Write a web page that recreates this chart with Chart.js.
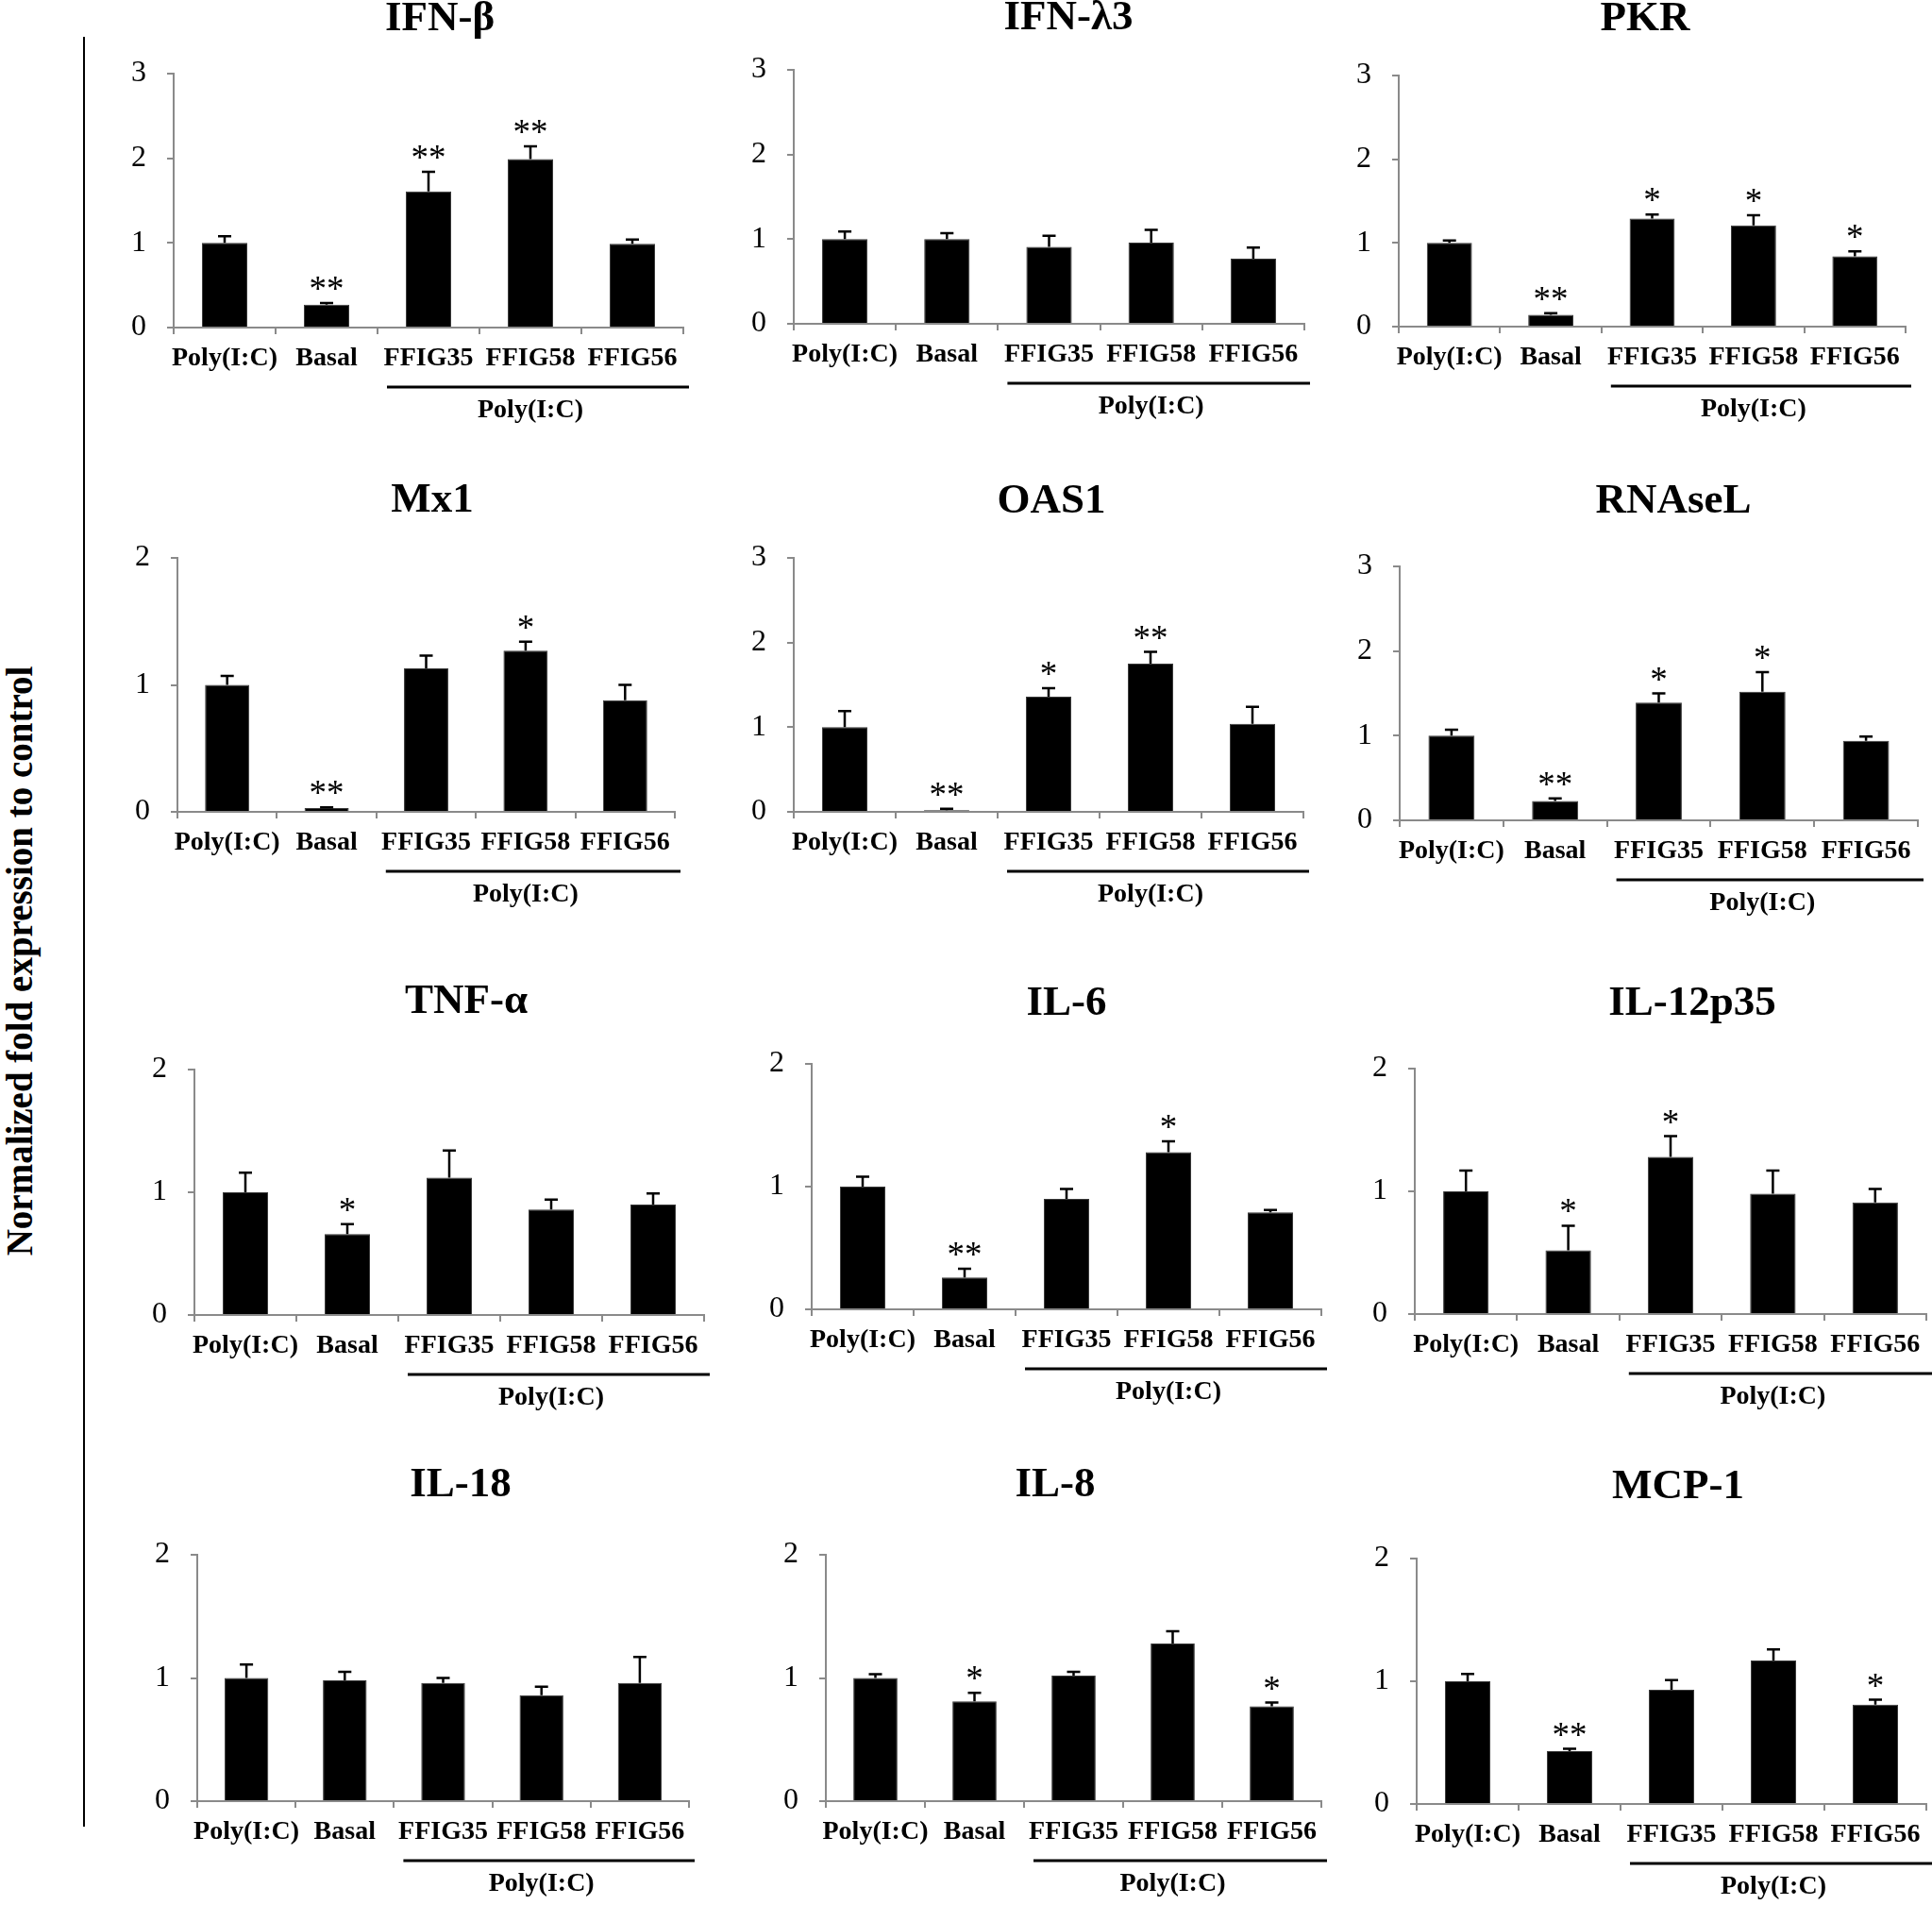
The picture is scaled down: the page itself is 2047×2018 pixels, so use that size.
<!DOCTYPE html>
<html><head><meta charset="utf-8">
<script src="https://cdn.jsdelivr.net/npm/chart.js@4.4.1/dist/chart.umd.min.js"></script>
<style>
html,body{margin:0;padding:0;background:#fff;}
#page{position:relative;width:2047px;height:2018px;overflow:hidden;background:#fff;}
#page canvas{position:absolute;}
#vline{position:absolute;left:88px;top:39px;width:2px;height:1896px;background:#000;}
#ytitle{position:absolute;left:20px;top:1018px;transform:translate(-50%,-50%) rotate(-90deg);white-space:nowrap;font:bold 39px "Liberation Serif";color:#000;}
</style></head>
<body><div id="page"><div id="vline"></div><div id="ytitle">Normalized fold expression to control</div></div>
<script>
// ---- data ----
const categories = ['Poly(I:C)', 'Basal', 'FFIG35', 'FFIG58', 'FFIG56'];
const groupLabel = 'Poly(I:C)';
const titles = ['IFN-β', 'IFN-λ3', 'PKR', 'Mx1', 'OAS1', 'RNAseL', 'TNF-α', 'IL-6', 'IL-12p35', 'IL-18', 'IL-8', 'MCP-1'];
const yMax = [3, 3, 3, 2, 3, 3, 2, 2, 2, 2, 2, 2];

const ifnb   = [1.00, 0.27, 1.61, 1.99, 0.99];
const ifnl3  = [1.00, 1.00, 0.91, 0.96, 0.77];
const pkr    = [1.00, 0.14, 1.29, 1.21, 0.84];
const mx1    = [1.00, 0.03, 1.13, 1.27, 0.88];
const oas1   = [1.00, 0.02, 1.36, 1.75, 1.04];
const rnasel = [1.00, 0.23, 1.39, 1.52, 0.94];
const tnfa   = [1.00, 0.66, 1.12, 0.86, 0.90];
const il6    = [1.00, 0.26, 0.90, 1.28, 0.79];
const il12   = [1.00, 0.52, 1.28, 0.98, 0.91];
const il18   = [1.00, 0.98, 0.96, 0.86, 0.96];
const il8    = [1.00, 0.81, 1.02, 1.28, 0.77];
const mcp1   = [1.00, 0.43, 0.93, 1.17, 0.81];

const ifnbErr   = [0.08, 0.02, 0.23, 0.15, 0.05];
const ifnl3Err  = [0.09, 0.07, 0.13, 0.15, 0.13];
const pkrErr    = [0.03, 0.02, 0.05, 0.12, 0.06];
const mx1Err    = [0.07, 0.006, 0.10, 0.07, 0.12];
const oas1Err   = [0.19, 0.015, 0.10, 0.14, 0.20];
const rnaselErr = [0.07, 0.03, 0.11, 0.23, 0.05];
const tnfaErr   = [0.16, 0.08, 0.22, 0.08, 0.09];
const il6Err    = [0.08, 0.07, 0.08, 0.09, 0.02];
const il12Err   = [0.17, 0.20, 0.17, 0.19, 0.11];
const il18Err   = [0.11, 0.07, 0.04, 0.07, 0.21];
const il8Err    = [0.03, 0.07, 0.03, 0.10, 0.03];
const mcp1Err   = [0.06, 0.02, 0.08, 0.09, 0.04];

const ifnbSig   = ['', '**', '**', '**', ''];
const ifnl3Sig  = ['', '', '', '', ''];
const pkrSig    = ['', '**', '*', '*', '*'];
const mx1Sig    = ['', '**', '', '*', ''];
const oas1Sig   = ['', '**', '*', '**', ''];
const rnaselSig = ['', '**', '*', '*', ''];
const tnfaSig   = ['', '*', '', '', ''];
const il6Sig    = ['', '**', '', '*', ''];
const il12Sig   = ['', '*', '*', '', ''];
const il18Sig   = ['', '', '', '', ''];
const il8Sig    = ['', '*', '', '', '*'];
const mcp1Sig   = ['', '**', '', '', '*'];

const seriesValues = [ifnb, ifnl3, pkr, mx1, oas1, rnasel, tnfa, il6, il12, il18, il8, mcp1];
const seriesErrors = [ifnbErr, ifnl3Err, pkrErr, mx1Err, oas1Err, rnaselErr, tnfaErr, il6Err, il12Err, il18Err, il8Err, mcp1Err];
const seriesSig = [ifnbSig, ifnl3Sig, pkrSig, mx1Sig, oas1Sig, rnaselSig, tnfaSig, il6Sig, il12Sig, il18Sig, il8Sig, mcp1Sig];

// ---- layout (page pixels): plot left, plot right, plot top, plot bottom, title centre x, title baseline ----
const panelLayout = [
  [184, 724, 78, 347, 466, 32],
  [841, 1382, 74, 343, 1132, 31],
  [1482, 2019, 80, 346, 1743, 32],
  [188, 715, 591, 860, 458, 542],
  [841, 1381, 591, 860, 1114, 543],
  [1483, 2032, 600, 869, 1773, 543],
  [206, 746, 1133, 1393, 494, 1073],
  [860, 1400, 1127, 1387, 1130, 1075],
  [1499, 2041, 1132, 1392, 1793, 1075],
  [209, 730, 1647, 1908, 488, 1585],
  [875, 1400, 1647, 1908, 1118, 1585],
  [1501, 2041, 1651, 1911, 1778, 1587]
];

const AXIS_GREY = '#8a8a8a';
const SERIF = '"Liberation Serif", "Times New Roman", serif';
const page = document.getElementById('page');

titles.forEach((title, k) => {
  const [X0, X1, YT, YB, TX, TY] = panelLayout[k];
  const left = X0 - 75;
  const right = Math.min(2047, X1 + 25);
  const top = TY - 48;
  const bottom = Math.min(2018, YB + 110);
  const cv = document.createElement('canvas');
  cv.width = right - left; cv.height = bottom - top;
  cv.style.left = left + 'px'; cv.style.top = top + 'px';
  cv.style.width = (right - left) + 'px'; cv.style.height = (bottom - top) + 'px';
  page.appendChild(cv);

  const vals = seriesValues[k], errs = seriesErrors[k], sig = seriesSig[k];

  const annot = {
    id: 'annot' + k,
    afterDatasetsDraw(chart) {
      const ctx = chart.ctx, y = chart.scales.y;
      const meta = chart.getDatasetMeta(0);
      ctx.save();
      ctx.strokeStyle = '#000'; ctx.fillStyle = '#000'; ctx.lineWidth = 2.5;
      meta.data.forEach((bar, i) => {
        const base = y.getPixelForValue(vals[i]);
        const tip = y.getPixelForValue(vals[i] + errs[i]);
        ctx.beginPath();
        ctx.moveTo(bar.x, base); ctx.lineTo(bar.x, tip);
        ctx.moveTo(bar.x - 7, tip); ctx.lineTo(bar.x + 7, tip);
        ctx.stroke();
        if (sig[i]) {
          ctx.font = '37px ' + SERIF;
          ctx.textAlign = 'center'; ctx.textBaseline = 'alphabetic';
          ctx.fillText(sig[i], bar.x, tip - 3);
        }
      });
      ctx.restore();
    },
    afterDraw(chart) {
      const ctx = chart.ctx, x = chart.scales.x, y = chart.scales.y;
      const cw = x.getPixelForValue(1) - x.getPixelForValue(0);
      const y0 = y.getPixelForValue(0);
      ctx.save();
      ctx.fillStyle = '#000'; ctx.strokeStyle = '#000';
      // title
      ctx.font = 'bold 45px ' + SERIF;
      ctx.textAlign = 'center'; ctx.textBaseline = 'alphabetic';
      ctx.fillText(title, TX - left, TY - top);
      // group underline
      ctx.lineWidth = 3;
      ctx.beginPath();
      ctx.moveTo(x.getPixelForValue(2) - cw / 2 + 10, y0 + 63);
      ctx.lineTo(x.right + 6, y0 + 63);
      ctx.stroke();
      ctx.font = 'bold 28px ' + SERIF;
      ctx.fillText(groupLabel, x.getPixelForValue(3), y0 + 95);
      ctx.restore();
    }
  };

  new Chart(cv, {
    type: 'bar',
    data: {
      labels: categories,
      datasets: [{
        data: vals,
        backgroundColor: '#000',
        borderColor: '#3a3a3a',
        borderWidth: 1,
        barPercentage: 0.445,
        categoryPercentage: 1.0
      }]
    },
    options: {
      responsive: false,
      animation: false,
      devicePixelRatio: 1,
      layout: { padding: { left: 0, top: YT - top, right: right - X1, bottom: 0 } },
      plugins: { legend: { display: false }, tooltip: { enabled: false }, title: { display: false } },
      scales: {
        x: {
          offset: true,
          grid: { display: true, drawOnChartArea: false, drawTicks: true, tickLength: 7, color: AXIS_GREY, lineWidth: 2, offset: true },
          border: { display: true, color: AXIS_GREY, width: 2 },
          ticks: { color: '#000', font: { family: SERIF, size: 28, weight: 'bold' }, padding: 9, maxRotation: 0, autoSkip: false },
          afterFit(s) { s.height = bottom - YB; }
        },
        y: {
          min: 0, max: yMax[k],
          grid: { display: true, drawOnChartArea: false, drawTicks: true, tickLength: 7, color: AXIS_GREY, lineWidth: 2 },
          border: { display: true, color: AXIS_GREY, width: 2 },
          ticks: { stepSize: 1, color: '#000', font: { family: SERIF, size: 32 }, padding: 22 },
          afterFit(s) { s.width = X0 - left; }
        }
      }
    },
    plugins: [annot]
  });
});
</script>
</body></html>
